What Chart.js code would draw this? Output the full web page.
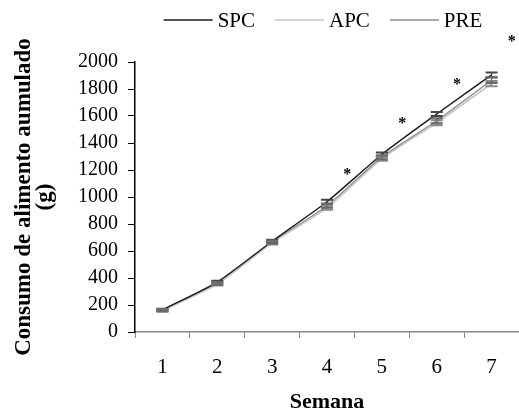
<!DOCTYPE html>
<html>
<head>
<meta charset="utf-8">
<script src="https://cdn.jsdelivr.net/npm/chart.js@4.4.1/dist/chart.umd.min.js"></script>
<style>
  html, body { margin: 0; padding: 0; background: #fff; }
  #wrap { width: 519px; height: 413px; }
</style>
</head>
<body>
<div id="wrap"><canvas id="c" width="519" height="413"></canvas></div>
<script>
// Cumulative feed intake per week (g), mean and error for each group
const weeks = ['1', '2', '3', '4', '5', '6', '7'];
const spc = [165, 370, 672, 965, 1315, 1615, 1905];
const apc = [158, 355, 660, 920, 1283, 1550, 1840];
const pre = [162, 360, 665, 935, 1295, 1565, 1865];
const spcErr = [8, 10, 12, 15, 15, 15, 18];
const apcErr = [8, 10, 12, 15, 15, 18, 20];
const preErr = [8, 10, 12, 15, 15, 18, 20];
// Significance marks: week index and height (g)
const starWeek = [3, 4, 5, 6];
const starValue = [1185, 1563, 1852, 2170];
const yTicks = [0, 200, 400, 600, 800, 1000, 1200, 1400, 1600, 1800, 2000];

const serif = "'Liberation Serif', 'Times New Roman', serif";
const PAD_LEFT = 14;     // room left of the rotated axis title
const AXIS_LEFT = 135;   // pixel where the value axis sits
const AXIS_BOTTOM = 332; // pixel where the category axis sits

// Vertical error bars with caps, drawn on the chart's own scales
const errorBars = {
  id: 'errorBars',
  afterDatasetsDraw(chart) {
    const { ctx, scales: { x, y } } = chart;
    ctx.save();
    chart.data.datasets.forEach((ds) => {
      if (!ds.errors) return;
      ctx.strokeStyle = ds.errorColor;
      ds.data.forEach((v, i) => {
        const px = x.getPixelForValue(i);
        const top = y.getPixelForValue(v + ds.errors[i]);
        const bot = y.getPixelForValue(v - ds.errors[i]);
        ctx.lineWidth = 1.2;
        ctx.beginPath();
        ctx.moveTo(px, top); ctx.lineTo(px, bot);
        ctx.stroke();
        ctx.lineWidth = 2;
        ctx.beginPath();
        ctx.moveTo(px - 6, top); ctx.lineTo(px + 6, top);
        ctx.moveTo(px - 6, bot); ctx.lineTo(px + 6, bot);
        ctx.stroke();
      });
    });
    ctx.restore();
  }
};

// Asterisks beside the weeks with significant differences
const stars = {
  id: 'stars',
  afterDatasetsDraw(chart) {
    const { ctx, scales: { x, y } } = chart;
    ctx.save();
    ctx.fillStyle = '#000';
    ctx.font = `bold 16px ${serif}`;
    ctx.textAlign = 'center';
    ctx.textBaseline = 'middle';
    starWeek.forEach((w, i) => {
      ctx.fillText('*', x.getPixelForValue(w + 0.37), y.getPixelForValue(starValue[i]) + 3);
    });
    ctx.restore();
  }
};

// Legend row: line sample followed by the series name, centred over the plot
const lineLegend = {
  id: 'lineLegend',
  afterDraw(chart) {
    const { ctx, chartArea } = chart;
    const sample = 49, gap = 5, spacing = 20, cy = 20;
    ctx.save();
    ctx.font = `21px ${serif}`;
    ctx.textBaseline = 'middle';
    ctx.textAlign = 'left';
    const items = chart.data.datasets.map(ds => ({ ds, w: ctx.measureText(ds.label).width }));
    const total = items.reduce((s, it) => s + sample + gap + it.w, 0) + spacing * (items.length - 1);
    let xPos = (chartArea.left + chartArea.right) / 2 - total / 2 - 4;
    items.forEach(({ ds, w }) => {
      ctx.strokeStyle = ds.borderColor;
      ctx.lineWidth = ds.borderWidth;
      ctx.beginPath();
      ctx.moveTo(xPos, cy); ctx.lineTo(xPos + sample, cy);
      ctx.stroke();
      ctx.fillStyle = '#000';
      ctx.fillText(ds.label, xPos + sample + gap, cy + 1);
      xPos += sample + gap + w + spacing;
    });
    ctx.restore();
  }
};

new Chart(document.getElementById('c'), {
  type: 'line',
  data: {
    labels: weeks,
    datasets: [
      { label: 'SPC', data: spc, errors: spcErr, errorColor: '#444',
        borderColor: '#1a1a1a', borderWidth: 1.4, tension: 0.2, pointRadius: 0 },
      { label: 'APC', data: apc, errors: apcErr, errorColor: '#8a8a8a',
        borderColor: '#c4c4c4', borderWidth: 1.6, tension: 0.2, pointRadius: 0 },
      { label: 'PRE', data: pre, errors: preErr, errorColor: '#6a6a6a',
        borderColor: '#8c8c8c', borderWidth: 1.4, tension: 0.2, pointRadius: 0 }
    ]
  },
  options: {
    responsive: false,
    animation: false,
    devicePixelRatio: 1,
    layout: { padding: { top: 62, right: 0, left: PAD_LEFT, bottom: 0 } },
    plugins: {
      legend: { display: false },
      tooltip: { enabled: false }
    },
    scales: {
      x: {
        offset: true,
        afterFit(scale) { scale.height = 413 - AXIS_BOTTOM; },
        grid: { display: true, offset: true, drawOnChartArea: false, tickLength: 6, color: '#888' },
        border: { color: '#888', width: 1.5 },
        ticks: { color: '#000', font: { family: serif, size: 21 }, padding: 17 },
        title: { display: true, text: 'Semana', color: '#000',
                 font: { family: serif, size: 22, weight: 'bold' }, padding: { top: 0, bottom: -3 } }
      },
      y: {
        min: 0, max: 2000,
        afterBuildTicks(scale) { scale.ticks = yTicks.map(v => ({ value: v })); },
        afterFit(scale) { scale.width = AXIS_LEFT - PAD_LEFT; },
        grid: { display: true, drawOnChartArea: false, tickLength: 7, color: '#000' },
        border: { color: '#000', width: 1.5 },
        ticks: { color: '#000', font: { family: serif, size: 20 }, padding: 10, autoSkip: false,
                 callback: (v) => String(v) },
        title: { display: true, text: ['Consumo de alimento aumulado', '(g)'], color: '#000',
                 font: { family: serif, size: 23, weight: 'bold', lineHeight: 0.9 }, padding: { top: 0, bottom: 0 } }
      }
    }
  },
  plugins: [errorBars, stars, lineLegend]
});
</script>
</body>
</html>
